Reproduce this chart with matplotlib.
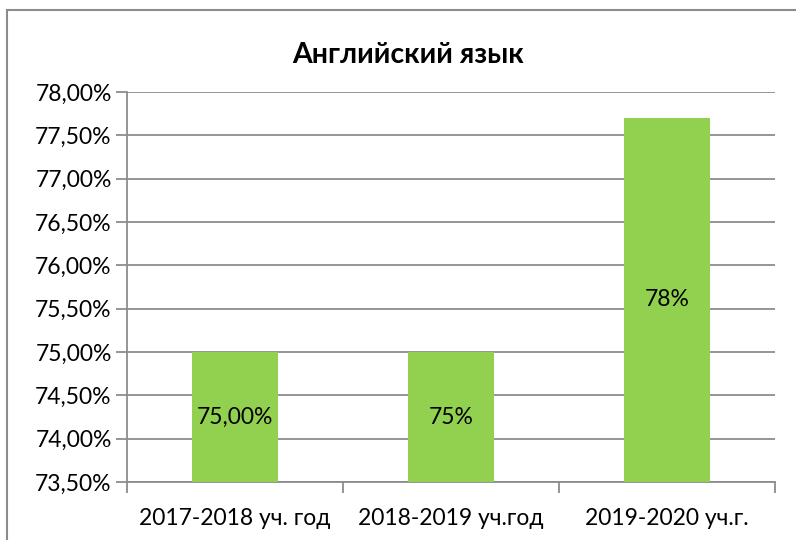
import matplotlib
matplotlib.use("Agg")
import matplotlib.pyplot as plt
from matplotlib.ticker import FixedLocator, FuncFormatter
from matplotlib.patches import Rectangle

categories = ["2017-2018 уч. год", "2018-2019 уч.год", "2019-2020 уч.г."]
values = [75.0, 75.0, 77.7]
value_labels = ["75,00%", "75%", "78%"]
yticks = [73.5, 74.0, 74.5, 75.0, 75.5, 76.0, 76.5, 77.0, 77.5, 78.0]
title = "Английский язык"

plt.rcParams['font.family'] = ['Lato', 'DejaVu Sans']

fig = plt.figure(figsize=(7.96, 5.40), dpi=100)
ax = fig.add_axes([127/796, 1-482/540, (775-127)/796, (482-92)/540])

x = list(range(len(categories)))
bars = ax.bar(x, [v - 73.5 for v in values], bottom=73.5, width=0.4, color="#92D050", zorder=3)
ax.set_xlim(-0.5, 2.5)
ax.set_ylim(73.5, 78.0)
ax.yaxis.set_major_locator(FixedLocator(yticks))
ax.yaxis.set_major_formatter(FuncFormatter(lambda v, p: f"{v:.2f}".replace(".", ",") + "%"))
ax.set_xticks(x)
ax.set_xticklabels(categories)
ax.xaxis.set_minor_locator(FixedLocator([-0.5, 0.5, 1.5, 2.5]))
ax.tick_params(axis='x', which='major', length=0, pad=19, labelsize=16.5)
ax.tick_params(axis='x', which='minor', length=8, color="#8c8c8c", width=1.3, direction='out')
ax.tick_params(axis='y', length=8, color="#8c8c8c", width=1.3, labelsize=16.5, pad=3)
ax.grid(axis='y', color="#8c8c8c", linewidth=1.3, zorder=0)
for s in ['top', 'right']:
    ax.spines[s].set_visible(False)
for s in ['left', 'bottom']:
    ax.spines[s].set_color("#8c8c8c")
    ax.spines[s].set_linewidth(1.3)

for b, lab, v in zip(bars, value_labels, values):
    ax.text(b.get_x() + b.get_width()/2, (73.5 + v)/2, lab, ha='center', va='center', fontsize=16.5, zorder=4)

fig.text(408/796, 1-55/540, title, ha='center', va='center', fontsize=20.5, fontweight='bold')

fig.patches.append(Rectangle((7/796, -0.05), 1.0, 1-10/540+0.05, transform=fig.transFigure,
                             fill=False, edgecolor="#8c8c8c", linewidth=1.5))

fig.savefig("out.png", dpi=100)
